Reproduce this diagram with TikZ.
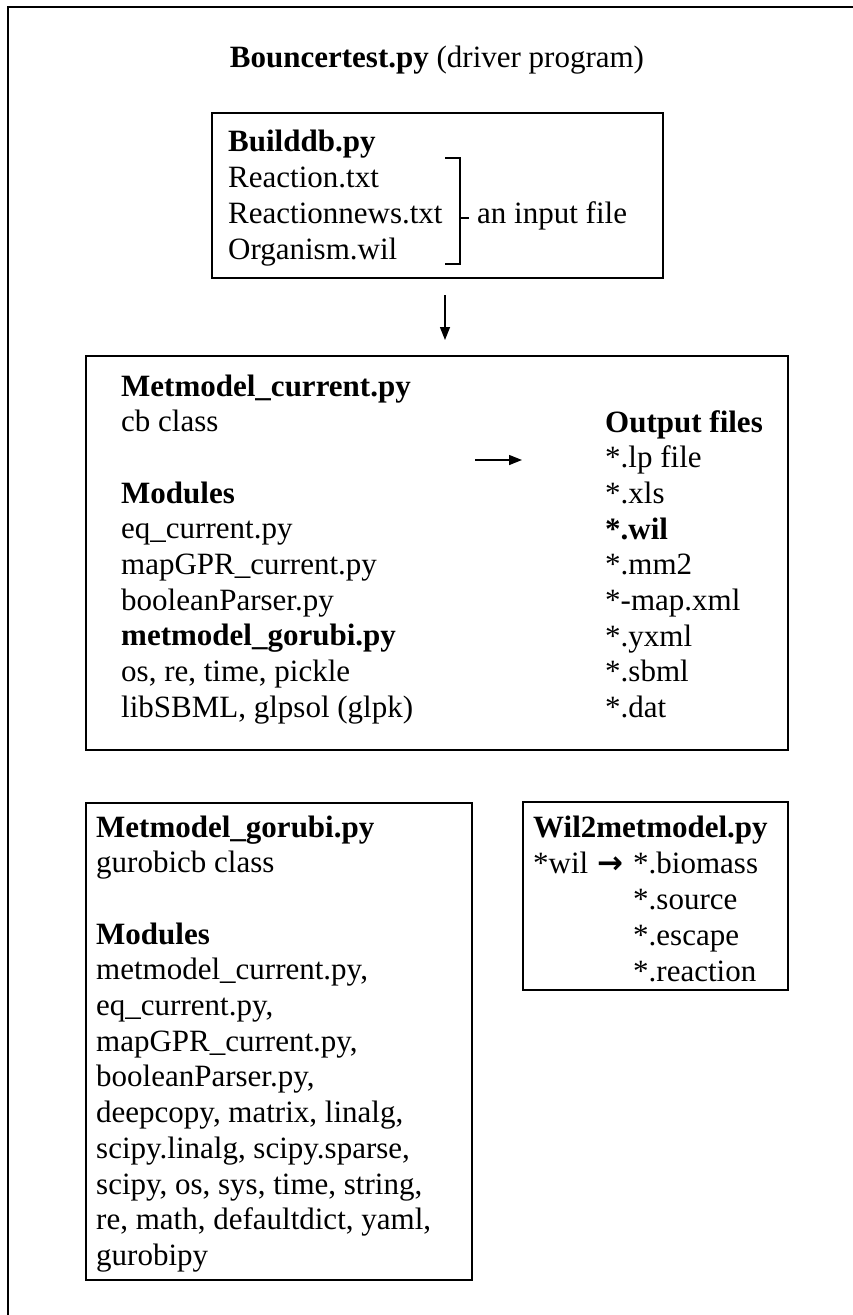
\documentclass[tikz,border=0pt]{standalone}
\usepackage{fontspec}
\setmainfont{Liberation Serif}
\newfontfamily\symfont{DejaVu Sans}
\usetikzlibrary{arrows.meta}

\begin{document}
\begin{tikzpicture}[
  x=1pt, y=-1pt,
  box/.style={rectangle, draw, line width=1.6pt, anchor=north west, inner sep=0pt, outer sep=0pt},
  txt/.style={anchor=base west, inner sep=0pt, font=\fontsize{31}{36}\selectfont},
  arr/.style={-{Triangle[width=10pt,length=13pt]}, line width=1.4pt}
]
\useasboundingbox (0,0) rectangle (853,1315);
\clip (0,0) rectangle (853,1315);
% outer frame, runs off the page at right and bottom
\node[box, minimum width=880pt, minimum height=1340pt] (frame) at (8,7) {};
\node[txt, anchor=base] (title) at (437,67) {\textbf{Bouncertest.py} (driver program)};

% Builddb
\node[box, minimum width=451pt, minimum height=165pt] (builddb) at (212,113) {};
\foreach \t [count=\i from 0] in {\textbf{Builddb.py}, Reaction.txt, Reactionnews.txt, Organism.wil}
  \node[txt] (bd-\i) at (228,151+36*\i) {\t};
\draw[line width=1.2pt] (445,158) -| (460,264) -- (445,264);
\draw[line width=1.2pt] (460,218) -- ++(9,0);
\node[txt] (input) at (477,223) {an input file};

% Metmodel_current
\node[box, minimum width=702pt, minimum height=394pt] (metmodel) at (86,356) {};
\foreach \t [count=\i from 0] in {\textbf{Metmodel\_current.py}, cb class, {}, \textbf{Modules},
    eq\_current.py, mapGPR\_current.py, booleanParser.py, \textbf{metmodel\_gorubi.py},
    {os, re, time, pickle}, {libSBML, glpsol (glpk)}}
  \node[txt] (mc-\i) at (121,396+35.7*\i) {\t};
\foreach \t [count=\i from 0] in {\textbf{Output files}, *.lp file, *.xls, \textbf{*.wil},
    *.mm2, *-map.xml, *.yxml, *.sbml, *.dat}
  \node[txt] (out-\i) at (605,432+35.7*\i) {\t};

\coordinate (dn) at (445,0);
\draw[arr, shorten <=17pt, shorten >=16pt] (builddb.south -| dn) -- (metmodel.north -| dn);
\coordinate (outarr) at (475,460);
\draw[arr, shorten >=83pt] (outarr) -- (outarr -| out-1.west);

% Metmodel_gorubi
\node[box, minimum width=386pt, minimum height=477pt] (gorubi) at (86,803) {};
\foreach \t [count=\i from 0] in {\textbf{Metmodel\_gorubi.py}, gurobicb class, {}, \textbf{Modules},
    {metmodel\_current.py,}, {eq\_current.py,}, {mapGPR\_current.py,}, {booleanParser.py,},
    {deepcopy, matrix, linalg,}, {scipy.linalg, scipy.sparse,}, {scipy, os, sys, time, string,},
    {re, math, defaultdict, yaml,}, gurobipy}
  \node[txt] (mg-\i) at (96,837+35.7*\i) {\t};

% Wil2metmodel
\node[box, minimum width=265pt, minimum height=188pt] (wil) at (523,802) {};
\node[txt] (wil-head) at (533,837) {\textbf{Wil2metmodel.py}};
\node[txt] (wil-in) at (533,873) {*wil};
\node[txt] (wil-to) at (597,873) {\symfont\bfseries →};
\foreach \t [count=\i from 0] in {*.biomass, *.source, *.escape, *.reaction}
  \node[txt] (wo-\i) at (633,873+36*\i) {\t};
\end{tikzpicture}
\end{document}
